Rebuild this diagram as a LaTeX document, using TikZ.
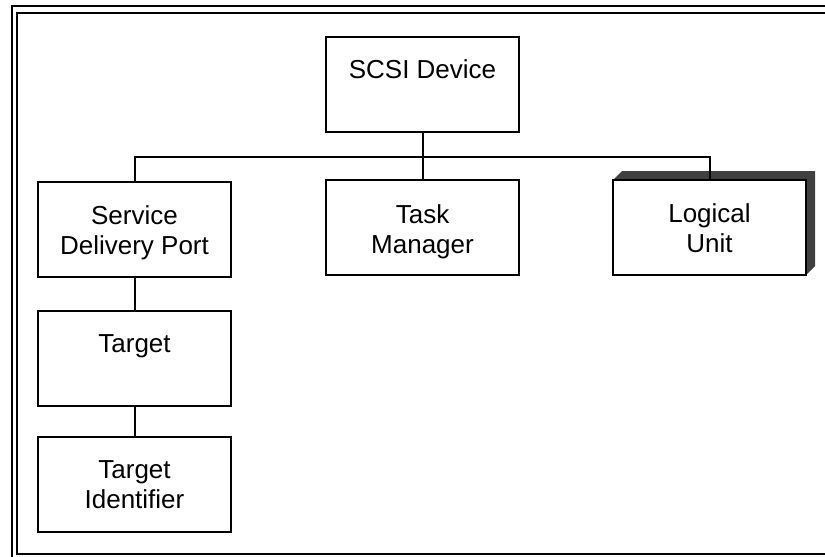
\documentclass[tikz,border=0pt]{standalone}
\usepackage{fontspec}
\setmainfont{Liberation Sans}
\begin{document}
\begin{tikzpicture}[x=1pt,y=-1pt,
  unitbox/.style={draw=black, line width=2pt, fill=white, minimum width=193pt,
    minimum height=95pt, inner sep=0pt, outer sep=0pt, anchor=north west},
  boxtext/.style={font=\fontsize{26}{30.7}\selectfont, align=center,
    anchor=north, inner sep=0pt},
  link/.style={line width=2pt},
  frameline/.style={line width=2.2pt},
  extrude/.style={fill=black!75, draw=none}]
\useasboundingbox (0,0) rectangle (825,557);
\clip (0,0) rectangle (825,557);

% double frame, running off the right and bottom edges
\draw[frameline] (12,5.7) rectangle (845,575);
\draw[frameline] (17,13) rectangle (845,554);

% unit boxes
\node[unitbox] (scsi) at (326,37) {};
\node[unitbox] (sdp)  at (38,182) {};
\node[unitbox] (tm)   at (326,180) {};
\node[unitbox] (lu)   at (613,180) {};
\node[unitbox] (tgt)  at (38,311) {};
\node[unitbox] (tid)  at (38,437) {};

% raised edge behind the Logical Unit box
\fill[extrude] (lu.north west) -- ++(9,-9) -- ([shift={(9,-9)}]lu.north east)
  -- ([shift={(9,-9)}]lu.south east) -- (lu.south east) -- (lu.north east) -- cycle;
\node[unitbox] at (lu.north west) {};

% box labels
\node[boxtext] (scsi-t) at ([yshift=-22pt]scsi.north) {SCSI Device};
\node[boxtext] (sdp-t)  at ([yshift=-23pt]sdp.north)  {Service\\Delivery Port};
\node[boxtext] (tm-t)   at ([yshift=-24pt]tm.north)   {Task\\Manager};
\node[boxtext] (lu-t)   at ([yshift=-23pt]lu.north)   {Logical\\Unit};
\node[boxtext] (tgt-t)  at ([yshift=-23pt]tgt.north)  {Target};
\node[boxtext] (tid-t)  at ([yshift=-23pt]tid.north)  {Target\\Identifier};

% connectors
\coordinate (bus) at ([yshift=-25pt]scsi.south);
\draw[link] (scsi.south) -- (bus);
\draw[link] (sdp.north) |- (bus) -| (lu.north);
\draw[link] (bus) -- (tm.north);
\draw[link] (sdp.south) -- (tgt.north);
\draw[link] (tgt.south) -- (tid.north);
\end{tikzpicture}
\end{document}
